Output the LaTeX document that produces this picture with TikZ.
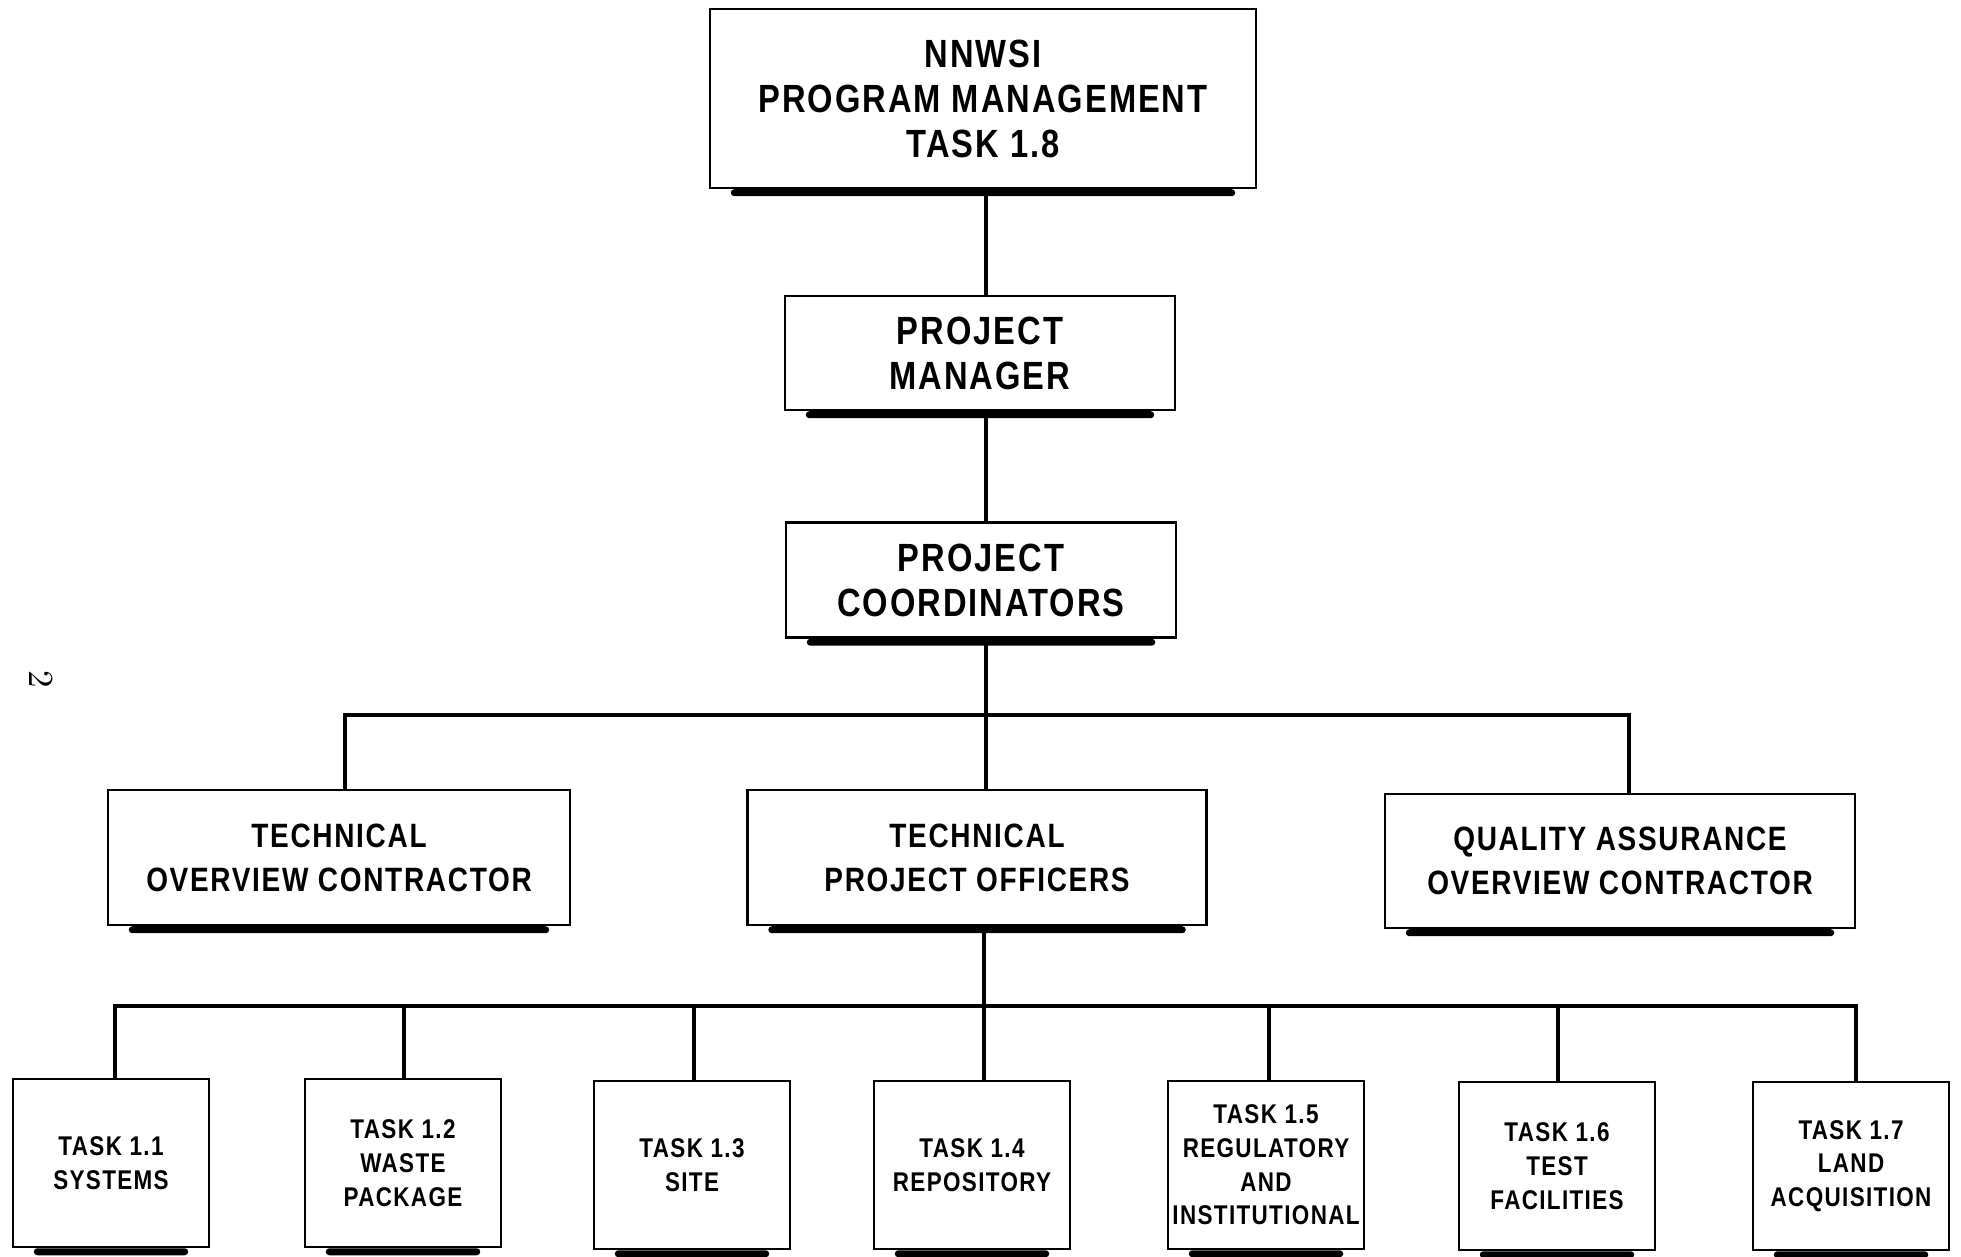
\documentclass[tikz,border=0pt]{standalone}
\usepackage{fontspec}
\setsansfont{Liberation Sans}[FakeStretch=0.83, LetterSpace=5]
\usetikzlibrary{calc}

\begin{document}
\begin{tikzpicture}[
    orgbox/.style={draw, line width=0.7pt, fill=white, align=center,
        font=\sffamily\bfseries\fontsize{9.6}{12.5}\selectfont},
    headbox/.style={orgbox, font=\sffamily\bfseries\fontsize{11.2}{12.8}\selectfont},
    taskbox/.style={orgbox, inner sep=1pt, minimum width=1.96cm, minimum height=1.68cm,
        font=\sffamily\bfseries\fontsize{7.7}{9.6}\selectfont},
    link/.style={line width=0.9pt}
]
    \useasboundingbox (0,0) rectangle (19.61,-12.56);

    % Top of the chart
    \node[headbox, minimum width=5.46cm, minimum height=1.79cm] (prog) at (9.83,-0.985)
        {NNWSI\\PROGRAM MANAGEMENT\\TASK 1.8};
    \node[headbox, minimum width=3.90cm, minimum height=1.14cm] (pm) at (9.80,-3.53)
        {PROJECT\\MANAGER};
    \node[headbox, minimum width=3.90cm, minimum height=1.15cm] (pc) at (9.81,-5.80)
        {PROJECT\\COORDINATORS};

    % Middle row
    \node[orgbox, minimum width=4.62cm, minimum height=1.35cm] (toc) at (3.39,-8.575)
        {TECHNICAL\\OVERVIEW CONTRACTOR};
    \node[orgbox, minimum width=4.59cm, minimum height=1.35cm] (tpo) at (9.77,-8.575)
        {TECHNICAL\\PROJECT OFFICERS};
    \node[orgbox, minimum width=4.70cm, minimum height=1.34cm] (qa) at (16.20,-8.61)
        {QUALITY ASSURANCE\\OVERVIEW CONTRACTOR};

    % Task boxes
    \node[taskbox] (t1) at (1.11,-11.63) {TASK 1.1\\SYSTEMS};
    \node[taskbox] (t2) at (4.03,-11.63) {TASK 1.2\\WASTE\\PACKAGE};
    \node[taskbox] (t3) at (6.92,-11.65) {TASK 1.3\\SITE};
    \node[taskbox] (t4) at (9.72,-11.65) {TASK 1.4\\REPOSITORY};
    \node[taskbox] (t5) at (12.66,-11.65) {TASK 1.5\\REGULATORY\\AND\\INSTITUTIONAL};
    \node[taskbox] (t6) at (15.57,-11.66) {TASK 1.6\\TEST\\FACILITIES};
    \node[taskbox] (t7) at (18.51,-11.66) {TASK 1.7\\LAND\\ACQUISITION};

    % Shadows under the boxes
    \foreach \n in {prog,pm,pc,toc,tpo,qa,t1,t2,t3,t4,t5,t6,t7} {
        \fill[rounded corners=1pt] ($(\n.south west)+(0.22,0)$) rectangle ($(\n.south east)+(-0.22,-0.07)$);
    }

    % Connector points
    \coordinate (spine) at (9.86,-7.15);
    \coordinate (left) at (3.45,-7.15);
    \coordinate (right) at (16.29,-7.15);
    \coordinate (bar) at (9.84,-10.06);
    \coordinate (barleft) at (1.15,-10.06);
    \coordinate (barright) at (18.56,-10.06);

    % Connectors
    \draw[link] (prog.south -| spine) -- (pm.north -| spine);
    \draw[link] (pm.south -| spine) -- (pc.north -| spine);
    \draw[link] (pc.south -| spine) -- (tpo.north -| spine);
    \draw[link] (left |- toc.north) -- (left) -- (right) -- (right |- qa.north);
    \draw[link] (tpo.south -| bar) -- (t4.north -| bar);
    \draw[link] (barleft |- t1.north) -- (barleft) -- (barright) -- (barright |- t7.north);
    \foreach \n/\x in {t2/4.04,t3/6.94,t5/12.69,t6/15.58} {
        \draw[link] (\n.north -| \x,0) -- (\x,0 |- bar);
    }

    % Page number
    \node[rotate=-90, font=\normalsize] (page) at (0.41,-6.79) {2};

\end{tikzpicture}
\end{document}
